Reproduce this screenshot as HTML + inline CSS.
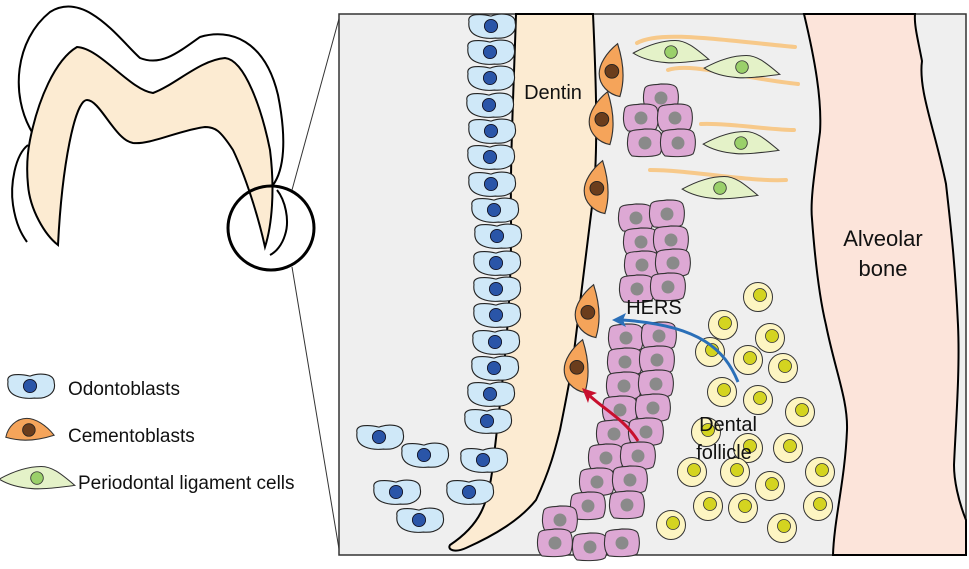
<!DOCTYPE html>
<html><head><meta charset="utf-8"><style>
html,body{margin:0;padding:0;background:#fff;}
svg{display:block;}
text{font-family:"Liberation Sans",Arial,sans-serif;fill:#111;}
</style></head><body>
<svg width="969" height="569" viewBox="0 0 969 569" xmlns="http://www.w3.org/2000/svg">
<defs>
<g id="od0"><path d="M-20,-4 C-22,-12 -8,-11 0,-9 C8,-12 22,-12 22,-3 C24,6 16,12 4,11 C-6,12 -22,10 -20,-4 Z" fill="#cfe8f8" stroke="#222" stroke-width="1"/><circle cx="0" cy="0" r="6" fill="#2a55a8" stroke="#112" stroke-width="0.8"/></g>
<g id="od" transform="scale(1.1)"><use href="#od0"/></g>
<g id="ce0"><path d="M4,-22 C-6,-14 -12,-4 -12,4 C-12,14 -4,22 6,24 C9,14 11,0 4,-22 Z" fill="#f5a45a" stroke="#333" stroke-width="1"/><circle cx="-1" cy="2" r="6" fill="#6b3d1c" stroke="#222" stroke-width="0.8"/></g>
<g id="ce" transform="scale(1.15)"><use href="#ce0"/></g>
<g id="pk0"><path d="M-15,-9 C-13,-13 -4,-12 0,-13 C6,-13 14,-13 15,-8 C17,-2 16,6 14,10 C10,13 -4,13 -12,12 C-17,8 -17,-2 -15,-9 Z" fill="#dda8d4" stroke="#333" stroke-width="1"/><circle cx="0" cy="0" r="6" fill="#8a8a8a"/></g>
<g id="pk" transform="scale(1.08)"><use href="#pk0"/></g>
<g id="ye"><circle r="14.5" fill="#fdf5c2" stroke="#333" stroke-width="1"/><circle cx="2" cy="-2" r="6.5" fill="#d4d420" stroke="#333" stroke-width="0.8"/></g>
<g id="gr0"><path d="M-36,2 C-25,-4 -10,-10 4,-10 C14,-10 22,-4 36,8 C20,10 5,12 -5,11 C-18,10 -28,7 -36,2 Z" fill="#e4f2c8" stroke="#333" stroke-width="1"/><circle cx="0" cy="1" r="6" fill="#9ad06a" stroke="#333" stroke-width="0.8"/></g>
<g id="gr" transform="scale(1.05)"><use href="#gr0"/></g>
</defs>

<!-- tooth -->
<path d="M32,132 C10,95 15,40 50,12 C85,-10 120,40 140,58 C160,66 175,55 200,37 C230,28 265,40 278,95 C287,140 284,170 273,185" fill="none" stroke="#000" stroke-width="2"/>
<path d="M30,140 C38,100 55,60 77,47 C100,48 130,90 153,93 C175,85 200,60 225,58 C245,60 262,110 270,150 C275,190 272,225 265,247 C258,215 245,175 233,150 C220,130 215,127 205,127 C180,130 150,145 133,143 C115,140 100,100 87,100 C75,100 62,165 58,245 C45,235 30,210 28,185 C26,165 28,150 30,140 Z" fill="#fcebd2" stroke="#000" stroke-width="2"/>
<path d="M28,145 C15,155 10,185 13,205 C16,225 22,235 27,242" fill="none" stroke="#000" stroke-width="2"/>
<path d="M277,190 C285,200 290,220 285,235 C282,245 276,252 270,255" fill="none" stroke="#000" stroke-width="2"/>
<ellipse cx="271" cy="228" rx="43" ry="42" fill="none" stroke="#000" stroke-width="3"/>
<line x1="292" y1="190" x2="340" y2="15" stroke="#333" stroke-width="1"/>
<line x1="292" y1="267" x2="340" y2="555" stroke="#333" stroke-width="1"/>

<!-- box -->
<rect x="339" y="14" width="627" height="541" fill="#efefef" stroke="#333" stroke-width="1.5"/>

<!-- alveolar bone -->
<path d="M804,14 C815,60 822,100 820,132 C815,170 810,200 812,219 C815,260 820,300 826,325 C835,370 848,400 847,430 C845,480 834,520 833,555 L966,555 L966,520 C958,500 954,480 954,465 C956,420 960,370 958,325 C955,260 950,220 946,184 C935,130 918,90 922,61 C918,40 914,25 915,14 Z" fill="#fce4da" stroke="#000" stroke-width="2"/>
<text x="883" y="246" font-size="22" text-anchor="middle">Alveolar</text>
<text x="883" y="276" font-size="22" text-anchor="middle">bone</text>

<!-- dentin -->
<path d="M516,14 C514,80 510,160 511,219 C512,320 500,400 493,465 C488,505 480,525 450,545 C447,550 455,553 466,548 C495,535 520,520 536,500 C550,470 555,450 560,430 C566,400 570,380 573,360 C580,300 588,240 594,190 C598,140 596,80 593,14 Z" fill="#fcebd2" stroke="#000" stroke-width="2"/>
<text x="553" y="99" font-size="20" text-anchor="middle">Dentin</text>

<!-- fibers -->
<g fill="none" stroke="#f7c98a" stroke-width="4" stroke-linecap="round">
<path d="M637,43 C660,30 720,40 795,47"/>
<path d="M668,70 C690,62 740,78 798,84"/>
<path d="M701,124 C730,123 770,130 794,130"/>
<path d="M650,170 C690,170 750,182 786,180"/>
</g>
<use href="#gr" x="671" y="51"/>
<use href="#gr" x="742" y="66"/>
<use href="#gr" x="741" y="142"/>
<use href="#gr" x="720" y="187"/>

<!-- odontoblasts -->
<use href="#od" x="491" y="26"/><use href="#od" x="490" y="52"/><use href="#od" x="490" y="78"/>
<use href="#od" x="489" y="105"/><use href="#od" x="491" y="131"/><use href="#od" x="490" y="157"/>
<use href="#od" x="491" y="184"/><use href="#od" x="494" y="210"/><use href="#od" x="497" y="236"/>
<use href="#od" x="496" y="263"/><use href="#od" x="496" y="289"/><use href="#od" x="496" y="315"/>
<use href="#od" x="495" y="342"/><use href="#od" x="494" y="368"/><use href="#od" x="490" y="394"/>
<use href="#od" x="487" y="421"/><use href="#od" x="483" y="460"/><use href="#od" x="469" y="492"/>
<use href="#od" x="379" y="437"/><use href="#od" x="424" y="455"/><use href="#od" x="396" y="492"/><use href="#od" x="419" y="520"/>

<!-- cementoblasts -->
<use href="#ce" x="613" y="69"/><use href="#ce" x="603" y="117"/><use href="#ce" x="598" y="186"/>
<use href="#ce" x="589" y="310"/><use href="#ce" x="578" y="365"/>

<!-- pink HERS -->
<use href="#pk" x="661" y="98"/><use href="#pk" x="641" y="118"/><use href="#pk" x="675" y="118"/>
<use href="#pk" x="645" y="143"/><use href="#pk" x="678" y="143"/>
<use href="#pk" x="636" y="218"/><use href="#pk" x="667" y="214"/><use href="#pk" x="641" y="242"/><use href="#pk" x="671" y="240"/>
<use href="#pk" x="642" y="265"/><use href="#pk" x="673" y="263"/><use href="#pk" x="637" y="289"/><use href="#pk" x="668" y="287"/>
<use href="#pk" x="626" y="338"/><use href="#pk" x="659" y="336"/><use href="#pk" x="625" y="362"/><use href="#pk" x="657" y="360"/>
<use href="#pk" x="624" y="386"/><use href="#pk" x="656" y="384"/><use href="#pk" x="620" y="410"/><use href="#pk" x="653" y="408"/>
<use href="#pk" x="614" y="434"/><use href="#pk" x="646" y="432"/><use href="#pk" x="606" y="458"/><use href="#pk" x="638" y="456"/>
<use href="#pk" x="597" y="482"/><use href="#pk" x="630" y="480"/><use href="#pk" x="588" y="506"/><use href="#pk" x="627" y="505"/>
<use href="#pk" x="560" y="520"/><use href="#pk" x="555" y="543"/><use href="#pk" x="590" y="547"/><use href="#pk" x="622" y="543"/>

<!-- yellow follicle -->
<use href="#ye" x="758" y="297"/><use href="#ye" x="723" y="325"/><use href="#ye" x="770" y="338"/>
<use href="#ye" x="710" y="352"/><use href="#ye" x="748" y="360"/><use href="#ye" x="783" y="368"/>
<use href="#ye" x="722" y="392"/><use href="#ye" x="758" y="400"/><use href="#ye" x="800" y="412"/>
<use href="#ye" x="706" y="432"/><use href="#ye" x="788" y="448"/><use href="#ye" x="748" y="448"/>
<use href="#ye" x="692" y="472"/><use href="#ye" x="735" y="472"/><use href="#ye" x="820" y="472"/>
<use href="#ye" x="770" y="486"/><use href="#ye" x="708" y="506"/><use href="#ye" x="743" y="508"/>
<use href="#ye" x="818" y="506"/><use href="#ye" x="671" y="525"/><use href="#ye" x="782" y="528"/>

<!-- arrows -->
<path d="M738,382 C725,350 700,325 622,320" fill="none" stroke="#2a6fb8" stroke-width="3"/>
<path d="M612,320 L626,313 L623,320 L626,327 Z" fill="#2a6fb8"/>
<path d="M638,441 C625,420 605,410 590,396" fill="none" stroke="#c8102e" stroke-width="3"/>
<path d="M582,388 L597,393 L590,396 L588,403 Z" fill="#c8102e"/>

<text x="654" y="314" font-size="20" text-anchor="middle">HERS</text>
<text x="728" y="431" font-size="20" text-anchor="middle">Dental</text>
<text x="724" y="459" font-size="20" text-anchor="middle">follicle</text>

<!-- legend -->
<use href="#od" x="30" y="386"/>
<text x="68" y="395" font-size="19">Odontoblasts</text>
<g transform="translate(31,431) rotate(90) scale(1.05)"><use href="#ce0"/></g>
<text x="68" y="442" font-size="19">Cementoblasts</text>
<use href="#gr" x="37" y="477"/>
<text x="78" y="489" font-size="19">Periodontal ligament cells</text>
</svg>
</body></html>
